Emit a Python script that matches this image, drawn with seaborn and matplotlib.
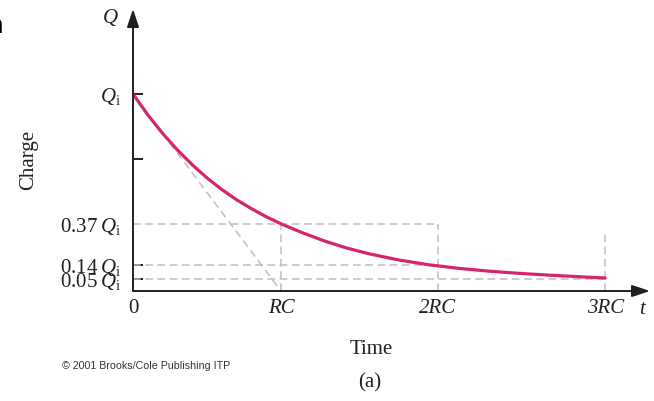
import matplotlib
matplotlib.use("Agg")
import matplotlib.pyplot as plt
import seaborn as sns
import pandas as pd

# values (time in units of RC, charge in units of Qi)
t_read = [0.0, 0.1, 0.2, 0.3, 0.4, 0.5, 0.6, 0.7, 0.8, 0.9, 1.0, 1.15,
          1.3, 1.45, 1.6, 1.8, 2.0, 2.2, 2.4, 2.6, 2.8, 3.0, 3.19]
q_read = [1.000, 0.894, 0.800, 0.716, 0.641, 0.574, 0.515, 0.463, 0.418, 0.377,
          0.341, 0.294, 0.252, 0.217, 0.188, 0.157, 0.133, 0.115, 0.101, 0.090,
          0.081, 0.073, 0.066]

t_ticks = [0.0, 1.0, 2.06, 3.19]
t_labels = ["0", "RC", "2RC", "3RC"]

q_levels = [0.34, 0.13, 0.06]          # 0.37 Qi, 0.14 Qi, 0.05 Qi as drawn
q_level_labels = [r"$0.37\;Q_{\mathrm{i}}$", r"$0.14\;Q_{\mathrm{i}}$", r"$0.05\;Q_{\mathrm{i}}$"]
q_level_ends = [2.06, 2.06, 3.19]      # where each dashed guide stops
q_mid_tick = 0.67
q_init = 1.0
guide_3rc_top = 0.30

CURVE = "#d6246e"
GUIDE = "#c2bac8"
INK = "#231f20"


def main():
    sns.set_theme(style="white")
    plt.rcParams["font.family"] = ["Liberation Serif", "DejaVu Serif"]
    plt.rcParams["mathtext.fontset"] = "custom"
    plt.rcParams["mathtext.rm"] = "Liberation Serif"
    plt.rcParams["mathtext.it"] = "Liberation Serif:italic"

    fig = plt.figure(figsize=(6.54, 4.01), dpi=100)
    ax = fig.add_axes([133 / 654, 110 / 401, 517 / 654, 282 / 401])
    ax.set_xlim(0, 517 / 148)
    ax.set_ylim(0, 282 / 197)

    # dashed guides
    dash = dict(color=GUIDE, lw=1.1, linestyle=(0, (5, 3)))
    for lvl, end in zip(q_levels, q_level_ends):
        ax.plot([0, end], [lvl, lvl], **dash)
    ax.plot([t_ticks[1], t_ticks[1]], [0, q_levels[0]], **dash)
    ax.plot([t_ticks[2], t_ticks[2]], [0, q_levels[0]], **dash)
    ax.plot([t_ticks[3], t_ticks[3]], [0, guide_3rc_top], **dash)
    # tangent at t = 0 reaching the axis at RC
    ax.plot([t_ticks[0], t_ticks[1]], [q_init, 0], **dash)

    df = pd.DataFrame({"t": t_read, "Q": q_read})
    sns.lineplot(data=df, x="t", y="Q", ax=ax, color=CURVE, lw=2.3,
                 sort=False, estimator=None)

    for s in ax.spines.values():
        s.set_visible(False)
    arrow = dict(arrowstyle="-|>,head_length=0.9,head_width=0.3", lw=1.4,
                 color=INK, shrinkA=0, shrinkB=0)
    ax.annotate("", xy=(1, 0), xytext=(0, 0), xycoords="axes fraction", arrowprops=arrow)
    ax.annotate("", xy=(0, 1), xytext=(0, 0), xycoords="axes fraction", arrowprops=arrow)

    ax.set_xticks(t_ticks)
    ax.set_xticklabels(t_labels)
    for lab in ax.get_xticklabels()[1:]:
        lab.set_fontstyle("italic")
    ax.tick_params(axis="x", length=0, pad=6, labelsize=15, colors=INK)

    yt = [q_levels[2], q_levels[1], q_levels[0], q_mid_tick, q_init]
    ax.set_yticks(yt)
    ax.set_yticklabels([q_level_labels[2], q_level_labels[1], q_level_labels[0], "",
                        r"$Q_{\mathrm{i}}$"])
    ax.tick_params(axis="y", direction="in", length=7, width=1.4, pad=8.5,
                   labelsize=15, colors=INK, left=True)
    ax.yaxis.get_major_ticks()[2].tick1line.set_visible(False)
    ax.set_xlabel("")
    ax.set_ylabel("")

    fig.text(642 / 654, 1 - 310 / 401, "t", fontsize=15, style="italic",
             ha="center", va="center", color=INK)
    fig.text(110 / 654, 1 - 18 / 401, "Q", fontsize=15, style="italic",
             ha="center", va="center", color=INK)
    fig.text(29 / 654, 1 - 160 / 401, "Charge", fontsize=15, rotation=90,
             ha="center", va="center", color=INK)
    fig.text(371 / 654, 1 - 350 / 401, "Time", fontsize=15,
             ha="center", va="center", color=INK)
    fig.text(370 / 654, 1 - 383 / 401, "(a)", fontsize=15,
             ha="center", va="center", color=INK)
    fig.text(146 / 654, 1 - 366 / 401, "\u00a9 2001 Brooks/Cole Publishing ITP",
             fontsize=7.7, family="Liberation Sans", ha="center", va="center",
             color="#333333")
    # cropped glyph at the top-left edge of the scan
    fig.text(-13 / 654, 1 - 33 / 401, "n", fontsize=18, weight="bold",
             family="Liberation Sans", ha="left", va="baseline", color="black")

    fig.savefig("out.png", dpi=100)


if __name__ == "__main__":
    main()
